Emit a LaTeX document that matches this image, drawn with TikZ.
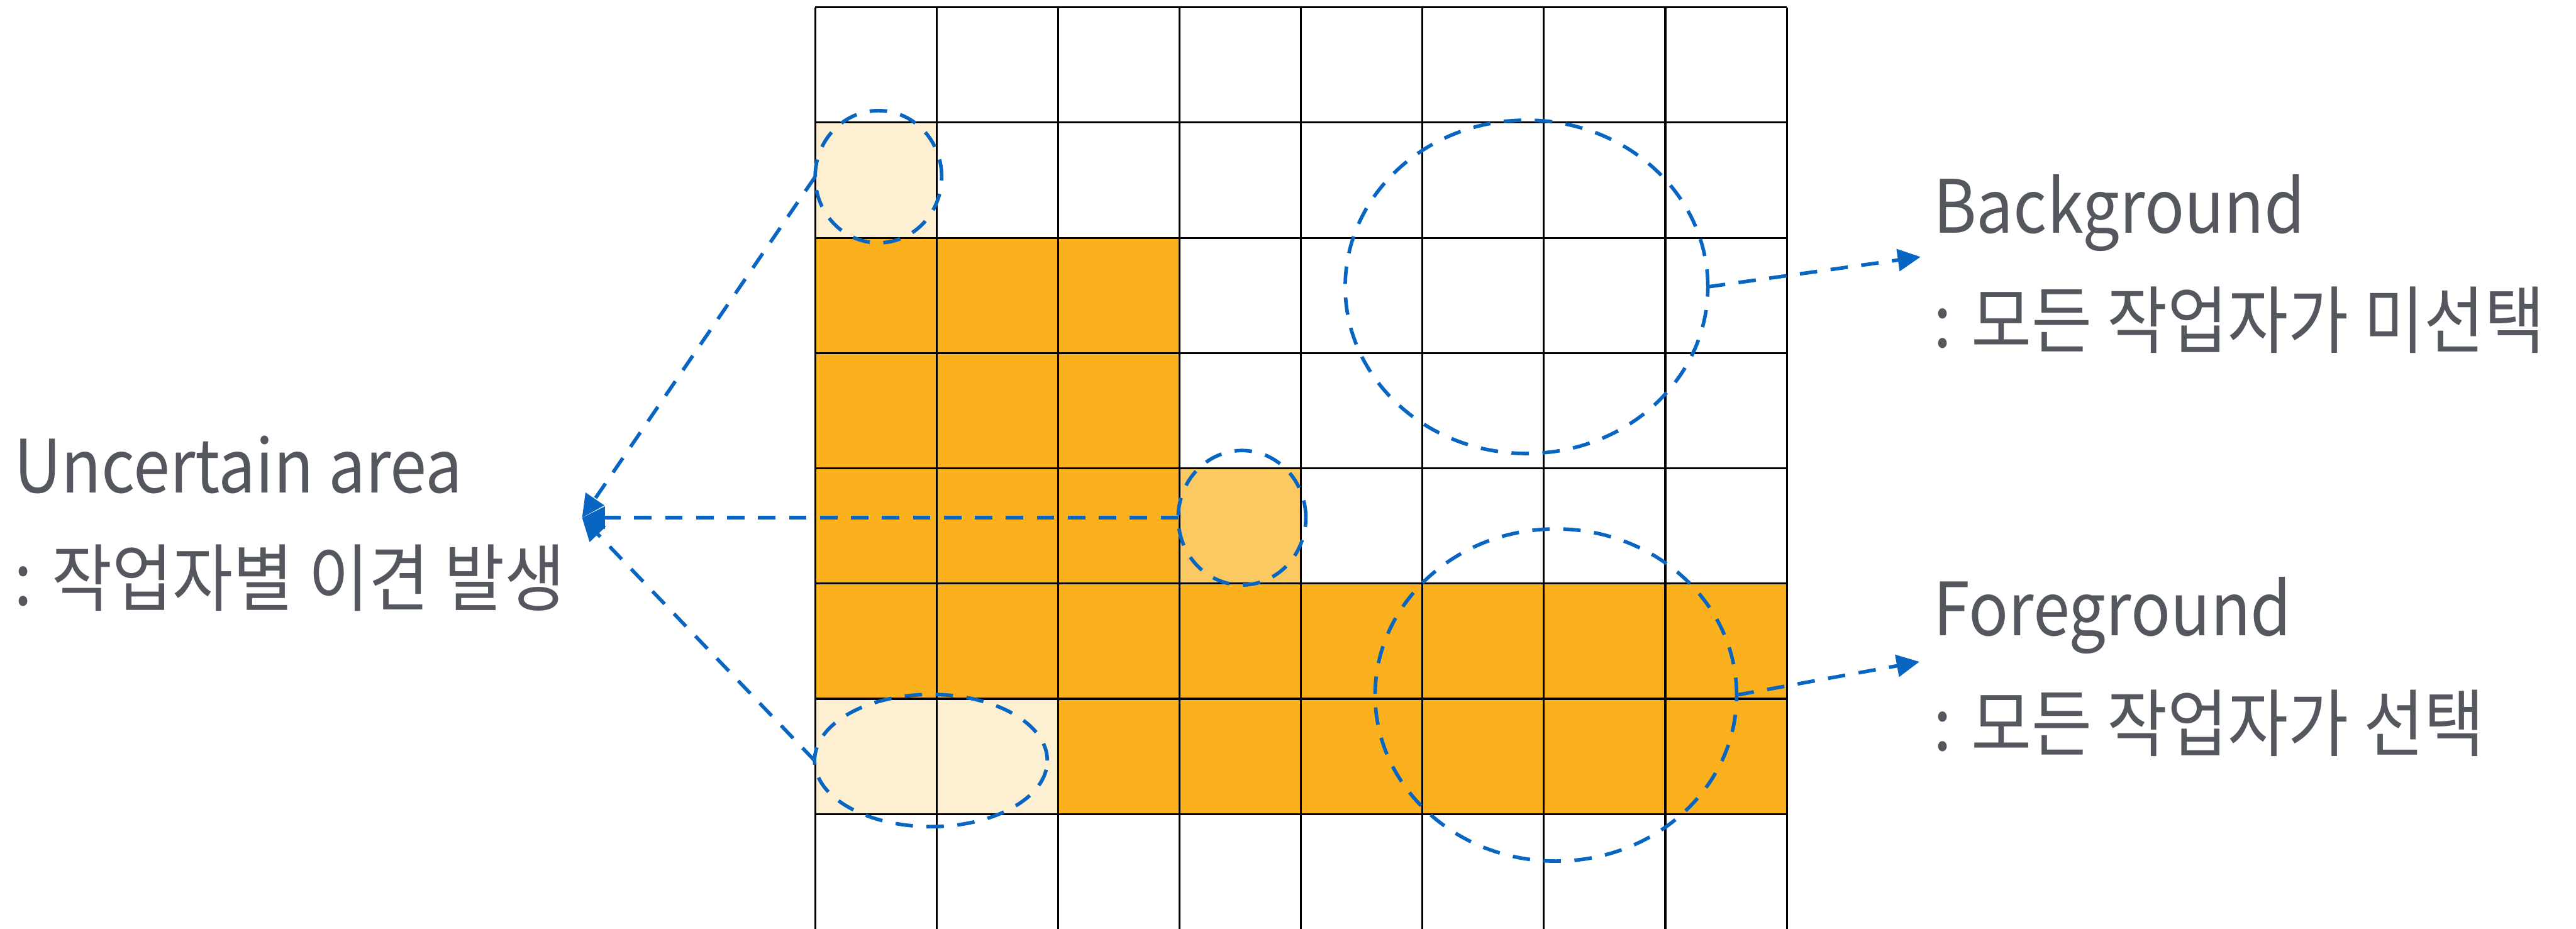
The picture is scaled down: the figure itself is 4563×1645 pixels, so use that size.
\documentclass[tikz,border=0pt]{standalone}
\usepackage{fontspec}
\setmainfont[FakeStretch=0.895]{Noto Sans CJK KR}
\usetikzlibrary{shapes.geometric,arrows.meta}
\definecolor{orng}{HTML}{FBB01E}
\definecolor{cream}{HTML}{FDEFD2}
\definecolor{midorng}{HTML}{FBC962}
\definecolor{dblue}{HTML}{0866C2}
\definecolor{tgray}{HTML}{54575D}
\tikzset{
  ucirc/.style={ellipse, draw=dblue, line width=1.8pt, dash pattern=on 8.8pt off 6.8pt, inner sep=0pt, outer sep=0pt},
  conn/.style={draw=dblue, line width=1.8pt, dash pattern=on 8.8pt off 6.8pt, -{Triangle[length=11.5pt,width=11pt]}},
  lbl/.style={text=tgray, anchor=base west, inner sep=0pt, font=\fontsize{37pt}{44pt}\selectfont},
  gridln/.style={line width=1pt, draw=black}
}
\begin{document}
\begin{tikzpicture}[x=0.01cm, y=-0.01cm]
\useasboundingbox (0,0) rectangle (4563,1645);
\def\cw{215.125}
\def\rh{204.1}
% cell fills: row, col range, colour
\foreach \r/\ca/\cb/\col in {1/0/0/cream, 2/0/2/orng, 3/0/2/orng, 4/0/2/orng, 4/3/3/midorng, 5/0/7/orng, 6/0/1/cream, 6/2/7/orng}{
  \fill[\col] ({1444+\ca*\cw},{13+\r*\rh}) rectangle ({1444+(\cb+1)*\cw},{13+(\r+1)*\rh});
}
% grid
\foreach \i in {0,...,8}{
  \draw[gridln] ({1444+\i*\cw},13) -- ({1444+\i*\cw},1660);
}
\foreach \j in {0,...,7}{
  \draw[gridln] (1444,{13+\j*\rh}) -- (3165,{13+\j*\rh});
}
% circles
\node[ucirc, minimum width=2.24cm, minimum height=2.34cm] (c1) at (1556,313) {};
\node[ucirc, minimum width=2.26cm, minimum height=2.38cm] (c2) at (2200,917) {};
\node[ucirc, minimum width=4.12cm, minimum height=2.34cm] (c3) at (1649,1347) {};
\node[ucirc, minimum width=6.42cm, minimum height=5.90cm] (c4) at (2704,508) {};
\node[ucirc, minimum width=6.40cm, minimum height=5.88cm] (c5) at (2756,1231) {};
% arrow tips
\coordinate (utip) at (1031,917);
\coordinate (btip) at (3402,455);
\coordinate (ftip) at (3400,1172);
\draw[conn] (c1.west) -- (utip);
\draw[conn] (c2.west) -- (utip);
\draw[conn] (c3.west) -- (utip);
\draw[conn] (c4.east) -- (btip);
\draw[conn] (c5.east) -- (ftip);
% labels
\node[lbl] (ua) at (24,873) {Uncertain area};
\node[lbl] (uk) at (24,1072) {: 작업자별 이견 발생};
\node[lbl] (bg) at (3424,413) {Background};
\node[lbl] (bk) at (3424,616) {: 모든 작업자가 미선택};
\node[lbl] (fg) at (3424,1126) {Foreground};
\node[lbl] (fk) at (3424,1329) {: 모든 작업자가 선택};
\end{tikzpicture}
\end{document}
